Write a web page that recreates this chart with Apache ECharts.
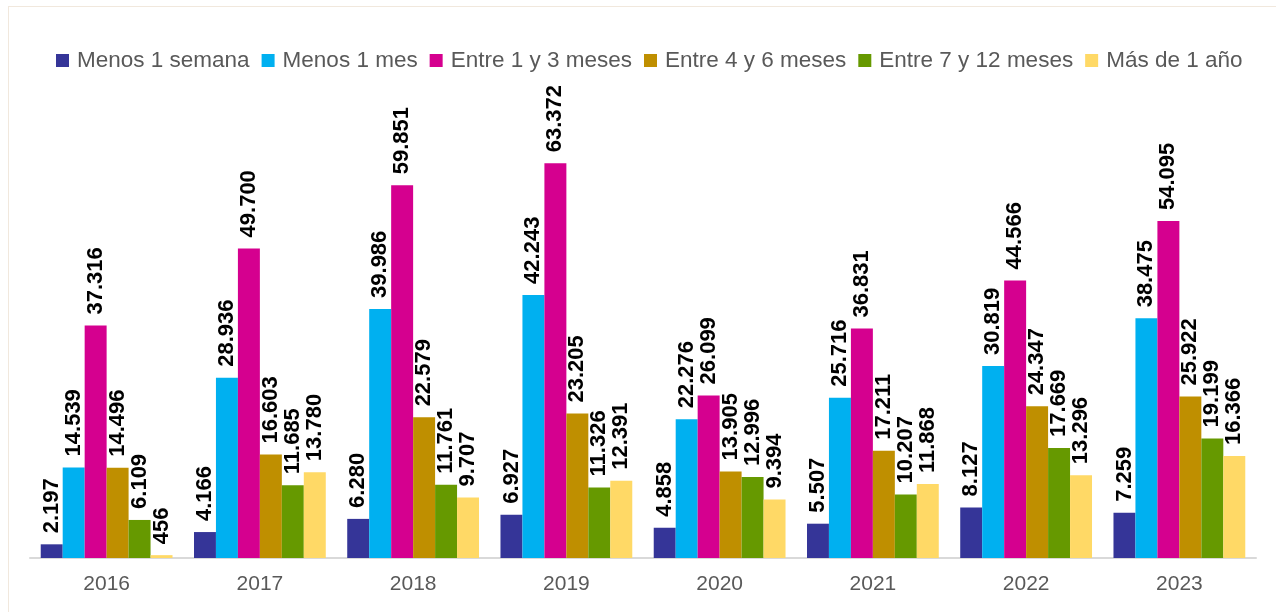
<!DOCTYPE html>
<html>
<head>
<meta charset="utf-8">
<script src="https://cdn.jsdelivr.net/npm/echarts@6/dist/echarts.min.js"></script>
<style>
  html, body { margin: 0; padding: 0; background: #ffffff; }
  #chart { width: 1276px; height: 612px; }
</style>
</head>
<body>
<div id="chart"></div>
<script>
// Años
const years = ['2016', '2017', '2018', '2019', '2020', '2021', '2022', '2023'];

// Número de casos por tramo de duración
const menos1Semana = [2197, 4166, 6280, 6927, 4858, 5507, 8127, 7259];
const menos1Mes = [14539, 28936, 39986, 42243, 22276, 25716, 30819, 38475];
const entre1y3 = [37316, 49700, 59851, 63372, 26099, 36831, 44566, 54095];
const entre4y6 = [14496, 16603, 22579, 23205, 13905, 17211, 24347, 25922];
const entre7y12 = [6109, 11685, 11761, 11326, 12996, 10207, 17669, 19199];
const masDe1Ano = [456, 13780, 9707, 12391, 9394, 11868, 13296, 16366];

const seriesNames = ['Menos 1 semana', 'Menos 1 mes', 'Entre 1 y 3 meses', 'Entre 4 y 6 meses', 'Entre 7 y 12 meses', 'Más de 1 año'];
const seriesData = [menos1Semana, menos1Mes, entre1y3, entre4y6, entre7y12, masDe1Ano];
const colors = ['#353598', '#00b0f0', '#d5008f', '#bf8f00', '#669900', '#ffd966'];

const FONT = 'Arial, "Liberation Sans", sans-serif';

// Separador de miles con punto
function fmt(v) {
  return String(v).replace(/\B(?=(\d{3})+(?!\d))/g, '.');
}

const chart = echarts.init(document.getElementById('chart'), null, { renderer: 'canvas' });

chart.setOption({
  backgroundColor: '#ffffff',
  animation: false,
  color: colors,
  graphic: [
    { type: 'line', shape: { x1: 8, y1: 6.5, x2: 1276, y2: 6.5 }, style: { stroke: '#f1e8dd', lineWidth: 1 } },
    { type: 'line', shape: { x1: 8.5, y1: 6, x2: 8.5, y2: 612 }, style: { stroke: '#f1e8dd', lineWidth: 1 } }
  ],
  legend: {
    left: 51,
    top: 44,
    itemWidth: 13,
    itemHeight: 13,
    itemGap: 12,
    icon: 'rect',
    textStyle: { fontFamily: FONT, fontSize: 22.5, color: '#595959', padding: [0, 0, 0, 3] },
    data: seriesNames
  },
  grid: { left: 30, right: 20, top: 122, bottom: 54, containLabel: false },
  xAxis: {
    type: 'category',
    data: years,
    axisLine: { show: true, lineStyle: { color: '#d9d9d9', width: 2 } },
    axisTick: { show: false },
    axisLabel: { fontFamily: FONT, fontSize: 21, color: '#595959', margin: 16 }
  },
  yAxis: {
    type: 'value',
    min: 0,
    max: 70000,
    show: false,
    splitLine: { show: false }
  },
  series: seriesNames.map((name, i) => ({
    name: name,
    type: 'bar',
    data: seriesData[i],
    barGap: '0%',
    barCategoryGap: '14%',
    itemStyle: { color: colors[i] },
    label: {
      show: true,
      position: 'top',
      rotate: 90,
      align: 'left',
      verticalAlign: 'middle',
      distance: 11,
      fontFamily: FONT,
      fontSize: 22,
      fontWeight: 'bold',
      color: '#000000',
      formatter: p => fmt(p.value)
    }
  }))
});
</script>
</body>
</html>
